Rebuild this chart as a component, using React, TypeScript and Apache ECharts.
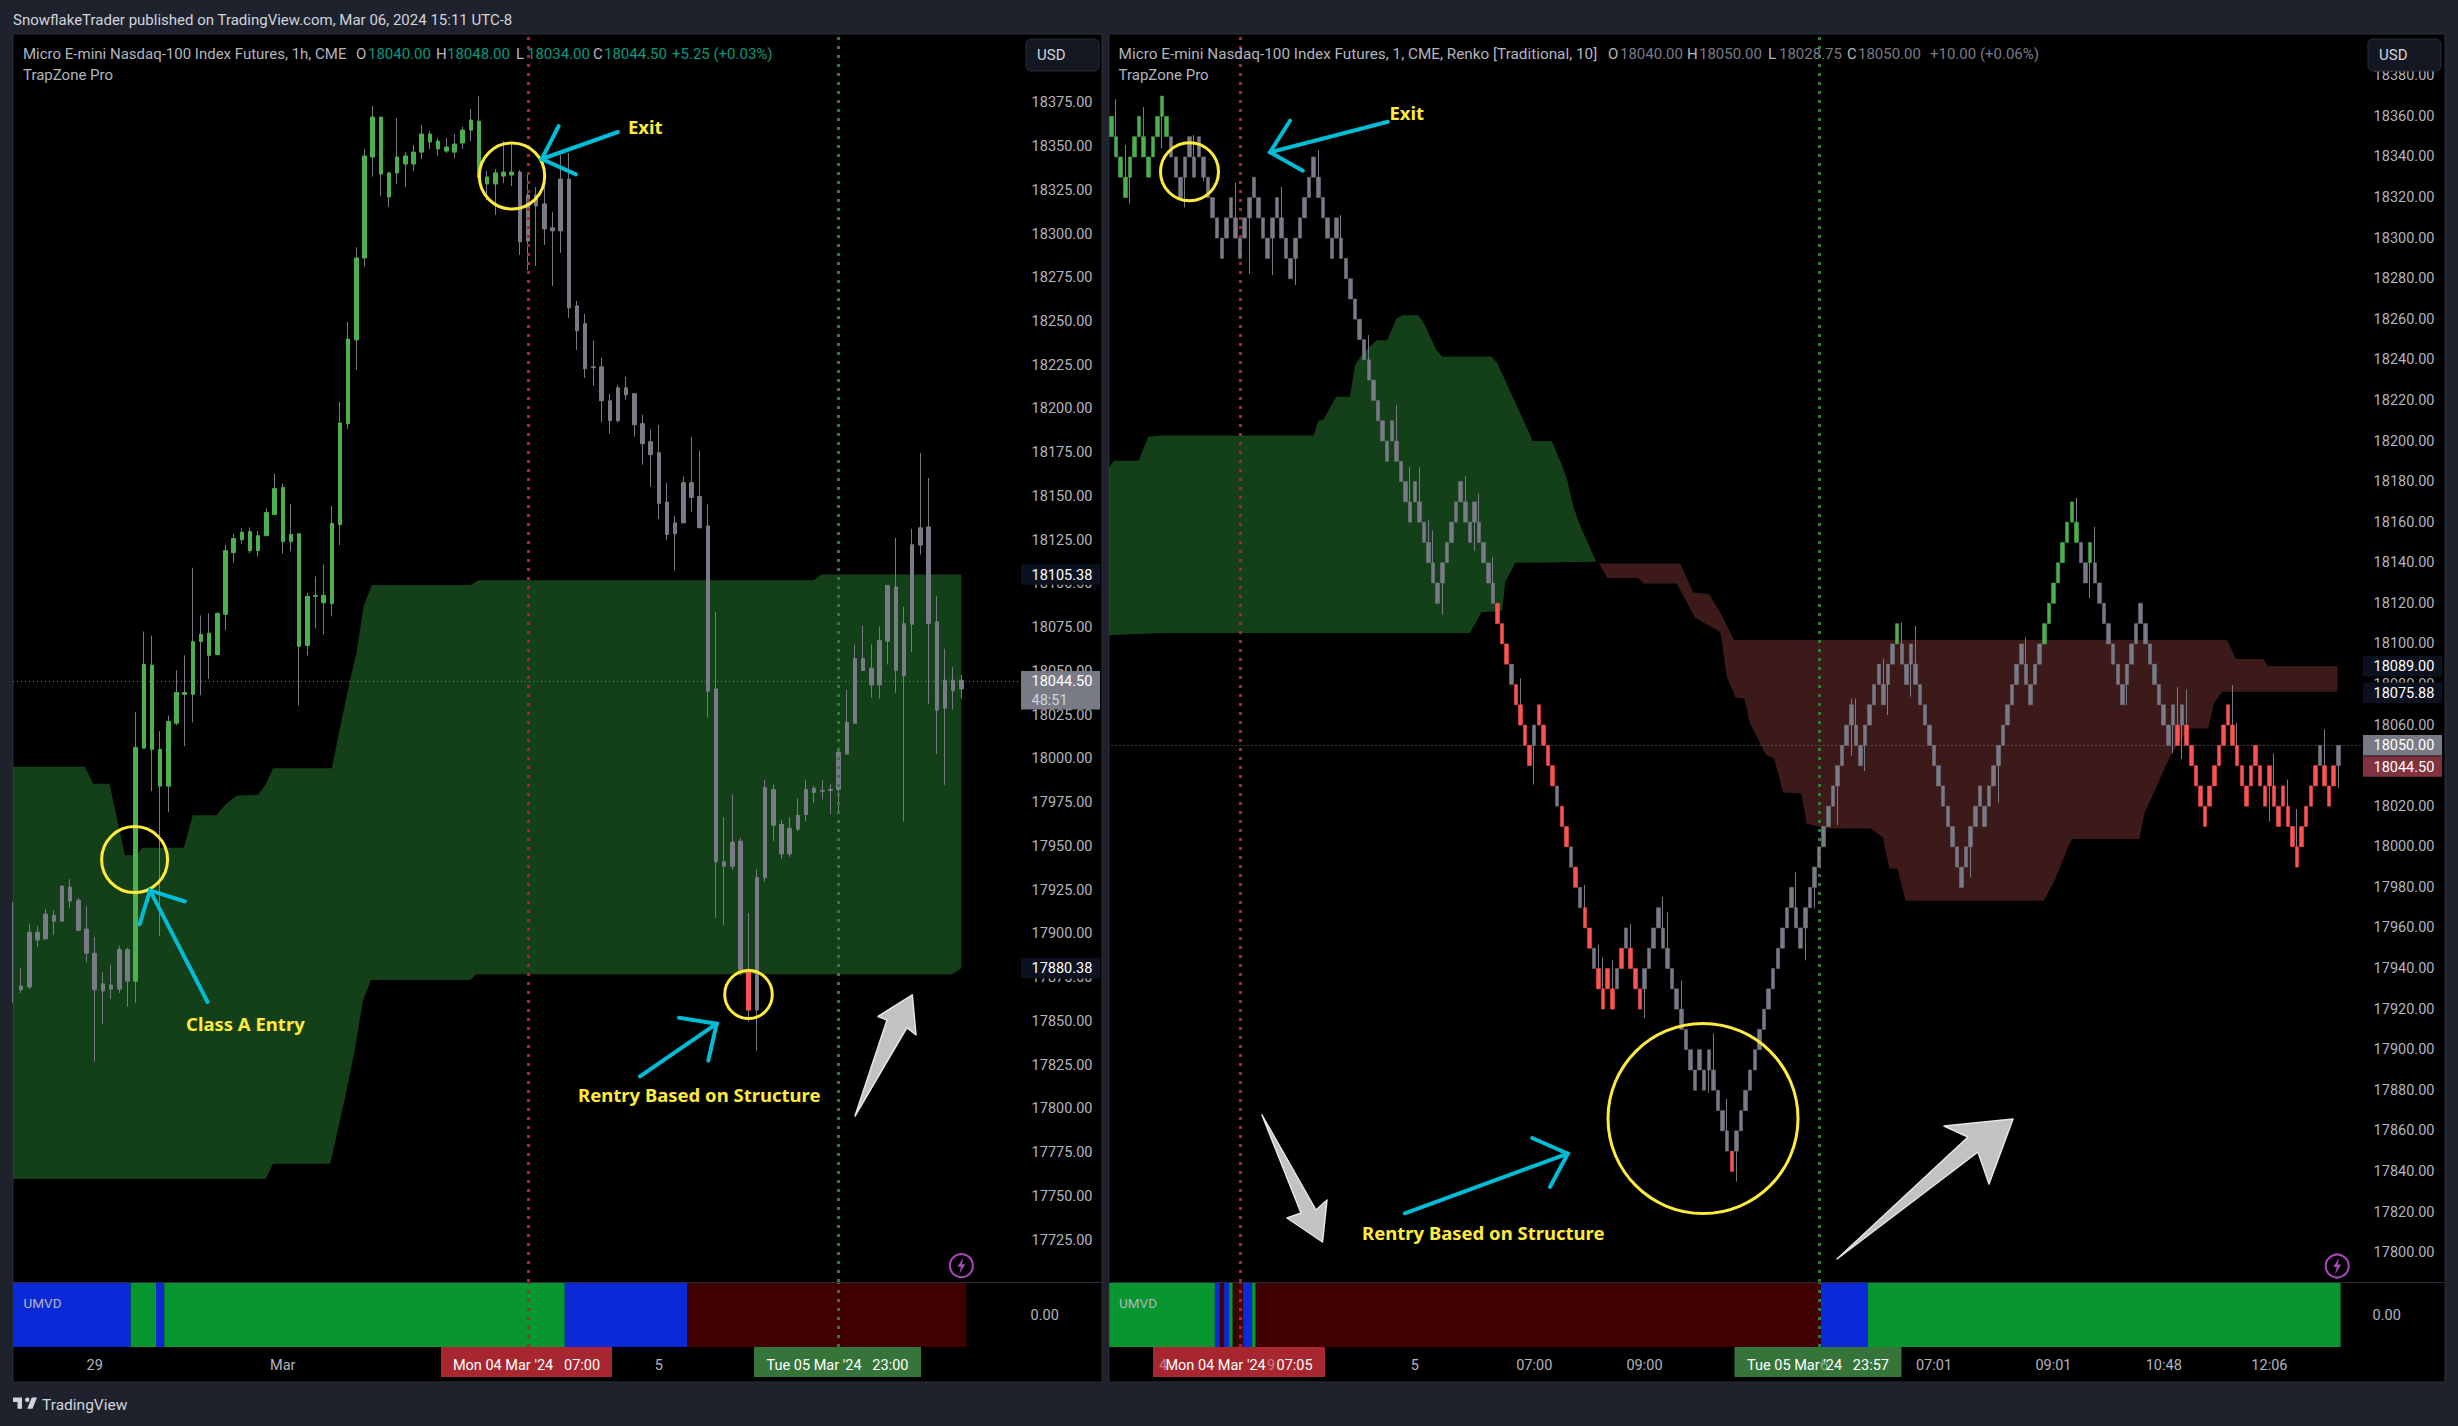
import { useEffect, useRef } from 'react'
import * as echarts from 'echarts'

// ---------- left chart: 1h candles ----------
const leftHigh = [17918.2,17880.5,17905.8,17904.6,17914.1,17913.6,17927.4,17931.3,17920.4,17915.9,17898.3,17878.2,17882.5,17893.3,17892.2,18026.9,18072.8,18070.5,18015.9,18024.9,18050.6,18059.2,18109.3,18082,18083.2,18083.8,18122.4,18128.7,18131.7,18132.3,18130.3,18143.2,18163,18157.4,18145.7,18128.7,18094.9,18104.3,18111.1,18144.5,18204.1,18249.8,18292.4,18348.6,18373.1,18366.8,18335.6,18366.2,18347,18350.8,18362.3,18358.8,18354.8,18354.8,18357.1,18361.3,18371.4,18378.8,18336,18337.1,18353.1,18352.6,18336.6,18333.7,18326.9,18328,18312.6,18345.1,18346.3,18261.8,18254.4,18239,18229.3,18208.7,18213.8,18218.4,18209.1,18196.7,18188.2,18191,18157.9,18138.9,18161.5,18184,18176.2,18145.4,18084,17966.7,17979.6,17954.8,17911.9,17936.9,17988.1,17985.4,17965.1,17966.7,17977.3,17988.1,17984.8,17987.7,17985.4,18006.6,18039.4,18065.4,18076.1,18065.4,18075.7,18099.2,18126.2,18087,18131.5,18174.8,18160.6,18092.9,18063,18052.4,18048.1]
const leftBodyTop = [null,17870.3,17901,17901,17911.4,17910.7,17927.4,17926.8,17919.3,17902.8,17889,17871.5,17870.8,17891.1,17891.1,18006.6,18054,18053.6,18005.5,18021.5,18038,18038,18067.1,18071.2,18071.9,18083.2,18119,18126,18129.6,18129.9,18127.6,18140.9,18154.5,18155.1,18128.3,18128.7,18092.9,18093.5,18093.5,18134.6,18192,18239.9,18286.3,18344.6,18366.8,18366.8,18334.9,18344,18344.6,18346.8,18357.1,18357.1,18353.1,18349.7,18351.4,18359.4,18365.1,18364.5,18332.6,18334.9,18335.4,18335.4,18335.4,18322.3,18322.3,18317.2,18303.5,18331.4,18331.4,18258.9,18248.7,18224.1,18224.1,18204.7,18212.1,18212.1,18208.7,18191.6,18181.3,18175,18146.8,18134.9,18157.9,18157.9,18150,18133.2,18040,17941.2,17952.5,17953,17879.8,17932.2,17983.6,17982.5,17962.6,17960.4,17967.8,17982.5,17983.2,17982,17982.5,18003.9,18020.9,18057.4,18057.4,18051.8,18067.6,18099.2,18098.3,18077.3,18122.4,18132.1,18132.6,18078.4,18045,18045,18045]
const leftBodyBottom = [null,17868.1,17869.7,17896.5,17897.2,17907.3,17907.3,17918.8,17902.1,17889,17868.1,17867.4,17868.5,17868.5,17873,17873,18006.2,18005.5,17984.5,17984.5,18020.4,18036.9,18036.9,18067.1,18059.2,18059.7,18082.7,18117.9,18125.3,18119,18119,18127.6,18139.6,18124.2,18124.2,18064.4,18064.9,18092.9,18089.3,18088.8,18133.9,18191.6,18239.5,18286.3,18344,18334.3,18321.2,18334.9,18340,18340,18346.8,18352.6,18348.6,18347.4,18346.8,18352,18359.4,18332,18328.6,18328.6,18333.1,18333.7,18295.5,18296,18316,18302.9,18301.8,18301.8,18257.8,18244.7,18223,18223.6,18204.7,18193.3,18193.3,18208.1,18191,18180.2,18173.9,18146.1,18128.3,18128.7,18134.9,18149.5,18132.1,18038.7,17941.2,17938.7,17938.7,17879.8,17856.5,17856.5,17932.2,17962.2,17945.7,17945.7,17959.9,17968.3,17980.9,17981.6,17982,17982.5,18002.8,18020.4,18050.6,18042.3,18042.3,18067.3,18050.6,18047.5,18077,18122.2,18077.5,18027.9,18029,18039.1,18040]
const leftLow = [17860.6,17866.3,17868.5,17892.7,17896.7,17899.4,17907.3,17914.8,17901.7,17883.9,17827,17848.7,17862.9,17866.3,17858.4,17860.6,18006.2,17981.6,17899,17969.6,18019.3,18007.3,18020.9,18036.4,18045.7,18059.2,18073.4,18112.2,18123.1,18117.7,18115.6,18127.6,18139.6,18117.4,18118.6,18030.6,18059.2,18074.6,18071.2,18081.5,18122.2,18188.7,18222.4,18281.4,18332.8,18321.7,18315.5,18328.6,18326.9,18336,18342.8,18348.6,18344.6,18346.3,18343.4,18348.6,18353.1,18332,18319.4,18310.9,18329.1,18327.4,18288.1,18279.5,18281.8,18293.8,18270.4,18289.2,18252.1,18233.8,18217.8,18213.3,18192.3,18185.9,18192.3,18205.3,18184.2,18168.2,18155.6,18137,18125.1,18107.7,18134.9,18141.2,18132.1,18023.6,17909.1,17905.1,17936.7,17876.4,17850,17833.3,17929.9,17953.2,17943,17944.1,17958.8,17964.2,17975,17976.9,17968.5,17970.1,18002.8,18020.4,18050.6,18035.1,18034.6,18054,18037.8,17964.2,18061,18116.8,18031.5,18002.8,17985.2,18028.3,18034.6]
const leftGreenBars = [[15, 61]]
const leftRedBars = [[90, 90]]
const leftBarCount = 124
const leftTickBars = [10, 33, 79]
const leftTickLabels = ['29', 'Mar', '5']
const leftPriceTicks = [18375,18350,18325,18300,18275,18250,18225,18200,18175,18150,18125,18100,18075,18050,18025,18000,17975,17950,17925,17900,17875,17850,17825,17800,17775,17750,17725]
const leftCloud = [[0,17995.6],[8.8,17995.6],[9.8,17985.9],[11.8,17985.9],[13.7,17945],[15.1,17945],[15.8,17949.3],[20.9,17949.3],[22,17967.8],[24.9,17967.8],[26,17974.1],[27.4,17979.1],[30,17979.5],[30.9,17985.4],[31.8,17994.7],[39,17994.7],[40,18017.5],[41.2,18044.5],[42,18060.3],[42.9,18087.4],[43.9,18099.4],[56,18099.4],[56.9,18102.1],[97.9,18102.1],[98.9,18105.4],[116,18105.4],[116,17880.4],[114.9,17876.9],[56.7,17876.9],[55.9,17873.7],[43.8,17873.7],[42.8,17861.7],[41.8,17833.5],[40.6,17805.8],[38.8,17768.7],[31.8,17768.7],[30.9,17760],[0,17760]]
const leftUmvd = [[0,14.4,'blue'],[14.4,17.5,'green'],[17.5,18.5,'blue'],[18.5,67.5,'green'],[67.5,82.5,'blue'],[82.5,116.6,'maroon']]
const leftRedLineBar = 63
const leftGreenLineBar = 101
const leftLastPrice = 18044.5

// ---------- right chart: renko bricks, each 10 points ----------
const rightBrickLow = [
  18350,18340,18330,18320,18330,18340,18350,18340,18330,18340,18350,18360,18350,
  18340,18330,18320,18330,18340,18330,18340,18330,18320,
  18310,18300,18290,18300,18310,18300,18290,18300,18310,18320,
  18310,18300,18290,18300,18310,18300,18290,18280,18290,18300,
  18310,18320,18330,18320,18310,18300,18290,18300,18290,18280,
  18270,18260,18250,18240,18230,18220,18210,18200,18190,18200,
  18190,18180,
  18170,18160,18170,18160,18150,18140,18130,18120,18130,18140,
  18150,18160,18170,18160,18150,18160,18150,18140,18130,18120,
  18110,18100,18090,18080,18070,18060,18050,18040,18050,18060,
  18050,18040,18030,18020,18010,18000,17990,17980,17970,17960,
  17950,17940,17930,17920,17930,17920,17930,17940,17950,17940,
  17930,17920,17930,17940,17950,17960,17950,17940,17930,17920,
  17910,17900,17890,17880,17890,17880,17890,17880,17870,
  17860,17850,17840,17850,17860,17870,17880,17890,17900,17910,17920,17930,
  17940,17950,17960,17970,17960,17950,17960,17970,17980,17990,
  18000,18010,18020,18030,18040,18050,18060,18050,18040,18050,
  18060,18070,18080,18070,18080,18090,18100,18090,18080,18090,
  18080,18070,18060,18050,18040,18030,18020,18010,18000,17990,
  17980,17990,18000,18010,18020,18010,18020,18030,18040,18050,
  18060,18070,18080,18090,18080,18070,18080,18090,18100,18110,
  18120,18130,18140,18150,18160,18150,18140,18130,18140,18130,
  18120,18110,18100,18090,18080,18070,18080,18090,18100,18110,
  18100,18090,18080,18070,18060,18050,18060,18050,18060,18050,
  18040,18030,18020,18010,18020,18030,18040,18050,18060,18050,
  18040,18030,18020,18030,18040,18030,18020,18030,18020,18010,
  18020,18010,18000,17990,18000,18010,18020,18030,18040,18030,
  18020,18030,18040,
]
const rightUpperWicks = [[1,18368.5],[3,18345.8],[7,18364.6],[18,18350.8],[27,18327.3],[37,18325.3],[45,18343.4],[50,18311.3],[56,18252.2],[62,18217.7],[65,18187.3],[67,18187],[69,18161.1],[70,18155.9],[77,18182.7],[80,18174],[83,18142.7],[89,18083],[103,17981.2],[106,17951.7],[107,17945.4],[109,17944.3],[113,17961.9],[120,17975.3],[121,17968],[124,17934],[131,17908],[134,17875.7],[149,17987.7],[161,18073.1],[162,18073.1],[168,18092.8],[172,18110.6],[175,18108.8],[199,18103.2],[210,18172],[214,18157.7],[232,18078.6],[234,18077.6],[244,18079.7],[245,18061.3],[253,18046],[256,18033.2],[258,18018.6],[264,18057.9]]
const rightLowerWicks = [[4,18317.1],[11,18344.2],[16,18315],[20,18328],[30,18282.3],[35,18281.8],[40,18276.8],[72,18114.4],[79,18145.7],[92,18030.7],[116,17915.5],[130,17878.8],[136,17835],[151,17944],[153,17969.6],[158,18010.7],[161,18044.9],[164,18037.3],[169,18064.9],[174,18074],[187,17984.8],[193,18021.7],[213,18122.4],[221,18069.8],[231,18046],[233,18043.2],[252,18012.4],[267,18029.1]]
const rightGreenBars = [[0,12],[171,171],[203,210],[213,213]]
const rightRedBars = [[84,86],[88,91],[93,96],[98,99],[101,101],[103,104],[106,109],[111,111],[113,115],[135,135],[232,232],[234,262],[264,266]]
const rightBarCount = 273
const rightTickBars = [66, 92, 116, 179, 205, 229, 252]
const rightTickLabels = ['5', '07:00', '09:00', '07:01', '09:01', '10:48', '12:06']
const rightPriceTicks = [18380,18360,18340,18320,18300,18280,18260,18240,18220,18200,18180,18160,18140,18120,18100,18080,18060,18040,18020,18000,17980,17960,17940,17920,17900,17880,17860,17840,17820,17800]
const rightGreenCloud = [[-0.6,18186.5],[0.5,18190.3],[5.9,18190.3],[8,18202.1],[10.4,18202.7],[44,18202.7],[45,18210],[46.1,18210.5],[48.9,18221.8],[51.9,18221.8],[53,18237.4],[54.7,18243.2],[57.7,18249.7],[60,18249.7],[62,18260.4],[63.3,18262],[66.8,18262],[68,18258],[70.7,18244.8],[72,18241.7],[82.7,18241.7],[84,18238.2],[91.7,18200],[95.8,18200],[98.2,18187.3],[99.2,18180.7],[100.3,18169.4],[101.6,18160.4],[105.5,18140.5],[87.9,18140],[85.7,18130.5],[85,18116.2],[80.5,18115.6],[79.3,18110.6],[78,18105.4],[10.4,18105.4],[-0.6,18104.3]]
const rightRedCloud = [[106.1,18139.6],[123.8,18139.6],[126.6,18125.3],[130,18124.6],[132.4,18115.9],[135.5,18101.9],[242.8,18101.9],[244.7,18092.5],[250.7,18092.5],[251.7,18089.1],[266.8,18089.1],[266.8,18076.4],[241.8,18076.4],[239.9,18070.7],[238.7,18058.3],[234.5,18058.3],[230.7,18046],[229.2,18038.6],[224.8,18016.4],[223.7,18003.8],[209.2,18003.8],[208.7,18002.5],[205.3,17983.6],[202.9,17973.4],[172.8,17973.4],[171.1,17989],[169.3,17989.4],[167.9,18004.6],[165.2,18009],[155.7,18009],[151.3,18011.5],[150.1,18026.3],[146.2,18026.8],[144.2,18043.6],[142.4,18045.2],[139,18060.8],[137.7,18073.1],[135.8,18073.6],[133.9,18083.8],[132.7,18103.5],[132.4,18106],[127,18112.9],[123,18129.8],[115.8,18129.8],[114.6,18132.5],[107.9,18132.5]]
const rightUmvd = [[-0.5,22.5,'green'],[22.5,23.6,'blue'],[23.6,24.5,'maroon'],[24.5,25.6,'blue'],[25.6,26.4,'green'],[26.4,28.6,'maroon'],[28.6,30.6,'blue'],[30.6,31.4,'green'],[31.4,154.4,'maroon'],[154.4,164.6,'blue'],[164.6,267.5,'green']]
const rightRedLineBar = 28
const rightGreenLineBar = 154
const rightLastPrice = 18050

const FONT = 'Roboto'
const NOTE_FONT = 'Noto Sans'
const PAGE = '#1e222d'
const BORDER = '#2a2e39'
const GRAY = '#787b86'
const GREEN = '#4caf50'
const RED = '#ff5252'
const TEAL = '#089981'
const AXIS_TEXT = '#b2b5be'
const YELLOW = '#ffeb3b'
const CYAN = '#00bcd4'
const UMVD_COLORS: Record<string, string> = { blue: '#0b29d6', green: '#07962f', maroon: '#400000' }
const NO_CANDLE = ['-', '-', '-', '-']

const inRanges = (i: number, ranges: number[][]) => ranges.some(([a, b]) => i >= a && i <= b)

const categories = (count: number, bars: number[], labels: string[]) =>
  Array.from({ length: count }, (_, i) => {
    const at = bars.indexOf(i)
    return at >= 0 ? labels[at] : ''
  })

const toneOf = (i: number, greens: number[][], reds: number[][]) =>
  inRanges(i, greens) ? GREEN : inRanges(i, reds) ? RED : GRAY

// wicks are gray whatever the body colour, so bodies and wicks are two candlestick series
const wickItem = (low: number, high: number) => [low, low, low, high]
const bodyItem = (bottom: number, top: number, color: string) => ({
  value: [bottom, top, bottom, top],
  itemStyle: { color, color0: color, borderColor: color, borderColor0: color },
})

const leftWicks = leftHigh.map((h, i) => wickItem(leftLow[i], h))
const leftBodies = leftHigh.map((_, i) =>
  leftBodyTop[i] == null
    ? { value: NO_CANDLE }
    : bodyItem(leftBodyBottom[i] as number, leftBodyTop[i] as number, toneOf(i, leftGreenBars, leftRedBars))
)
const rightBodies = rightBrickLow.map((low, i) => bodyItem(low, low + 10, toneOf(i, rightGreenBars, rightRedBars)))
const rightWicks = rightBrickLow.map((low, i) => {
  const up = rightUpperWicks.find(w => w[0] === i)
  const down = rightLowerWicks.find(w => w[0] === i)
  if (!up && !down) return NO_CANDLE
  return wickItem(down ? down[1] : low + 5, up ? up[1] : low + 5)
})

const polygonSeries = (vertices: number[][], color: string, xAxisIndex: number, yAxisIndex: number, z: number) => ({
  type: 'custom',
  xAxisIndex,
  yAxisIndex,
  z,
  silent: true,
  clip: true,
  data: [vertices[0]],
  renderItem: (_: any, api: any) => ({
    type: 'polygon',
    shape: { points: vertices.map(v => api.coord(v)) },
    style: { fill: color },
  }),
})

const umvdSeries = (runs: any[], xAxisIndex: number, yAxisIndex: number) => ({
  type: 'custom',
  xAxisIndex,
  yAxisIndex,
  z: 1,
  silent: true,
  clip: true,
  data: runs.map(r => [r[0], r[1]]),
  renderItem: (params: any, api: any) => {
    const run = runs[params.dataIndex]
    const from = api.coord([run[0], 1])
    const to = api.coord([run[1], -1])
    return {
      type: 'rect',
      shape: { x: from[0], y: from[1], width: to[0] - from[0], height: to[1] - from[1] },
      style: { fill: UMVD_COLORS[run[2]] },
    }
  },
})

const dotted = (color: string) => ({ color, width: 3, type: [3, 6] as any, opacity: 1 })

const markLineSeries = (xAxisIndex: number, yAxisIndex: number, z: number, data: any[]) => ({
  type: 'line',
  xAxisIndex,
  yAxisIndex,
  z,
  silent: true,
  data: [],
  markLine: { silent: true, symbol: 'none', animation: false, label: { show: false }, data },
})

const sessionLines = (redBar: number, greenBar: number) => [
  { xAxis: redBar, lineStyle: dotted('#b2222e') },
  { xAxis: greenBar, lineStyle: dotted('#2e7d32') },
]

const lastPriceLine = (price: number, lastBar: number) => [
  [
    { coord: [0, price], lineStyle: { color: GRAY, width: 1, type: [1, 3] as any } },
    { coord: [lastBar, price] },
  ],
]

const priceAxis = (gridIndex: number, min: number, max: number, ticks: number[], margin: number) => ({
  type: 'value',
  gridIndex,
  position: 'right',
  min,
  max,
  axisLine: { show: false },
  axisTick: { show: false },
  splitLine: { show: false },
  axisLabel: {
    color: AXIS_TEXT,
    fontFamily: FONT,
    fontSize: 14.5,
    margin,
    customValues: ticks,
    formatter: (v: number) => v.toFixed(2),
  },
})

const hiddenBarAxis = (gridIndex: number, count: number) => ({
  type: 'value',
  gridIndex,
  show: false,
  min: -0.5,
  max: count - 0.5,
  splitLine: { show: false },
})

const hiddenCategoryAxis = (gridIndex: number, count: number) => ({
  type: 'category',
  gridIndex,
  show: false,
  data: Array.from({ length: count }, (_, i) => String(i)),
})

const timeAxis = (gridIndex: number, names: string[]) => ({
  type: 'category',
  gridIndex,
  data: names,
  axisLine: { show: false },
  axisTick: { show: false },
  splitLine: { show: false },
  axisLabel: { interval: 0, color: AXIS_TEXT, fontFamily: FONT, fontSize: 14.5, margin: 11 },
})

const txt = (x: number, y: number, text: string, fill: string, fontSize = 15, align: any = 'left') => ({
  type: 'text',
  z: 120,
  silent: true,
  style: { x, y, text, fill, fontSize, fontFamily: FONT, align, verticalAlign: 'middle' },
})

const note = (x: number, y: number, text: string) => ({
  type: 'text',
  z: 120,
  silent: true,
  style: { x, y, text, fill: YELLOW, fontSize: 18.5, fontWeight: 'bold', fontFamily: NOTE_FONT, verticalAlign: 'middle' },
})

const box = (x: number, y: number, width: number, height: number, fill: string, z = 110, r = 0, stroke?: string) => ({
  type: 'rect',
  z,
  silent: true,
  shape: { x, y, width, height, r },
  style: { fill, stroke, lineWidth: stroke ? 1 : 0 },
})

const ring = (cx: number, cy: number, rx: number, ry: number) => ({
  type: 'ellipse',
  z: 100,
  silent: true,
  shape: { cx, cy, rx, ry },
  style: { fill: 'none', stroke: YELLOW, lineWidth: 3 },
})

const arrow = (tail: number[], tip: number[], barbA: number[], barbB: number[]) => ({
  type: 'group',
  z: 100,
  silent: true,
  children: [
    { type: 'polyline', z: 100, shape: { points: [tail, tip] }, style: { fill: 'none', stroke: CYAN, lineWidth: 4, lineCap: 'round' } },
    { type: 'polyline', z: 100, shape: { points: [barbA, tip, barbB] }, style: { fill: 'none', stroke: CYAN, lineWidth: 4, lineCap: 'round', lineJoin: 'miter' } },
  ],
})

const grayArrow = (points: number[][]) => ({
  type: 'polygon',
  z: 100,
  silent: true,
  shape: { points },
  style: { fill: '#c2c2c2', stroke: '#e6e6e6', lineWidth: 1.5, lineJoin: 'round' },
})

const bolt = (cx: number, cy: number) => ({
  type: 'group',
  z: 100,
  silent: true,
  children: [
    { type: 'circle', z: 100, shape: { cx, cy, r: 11.5 }, style: { fill: 'none', stroke: '#ab47bc', lineWidth: 2 } },
    {
      type: 'polygon',
      z: 100,
      shape: { points: [[cx + 2, cy - 8], [cx - 4, cy + 1], [cx - 0.5, cy + 1], [cx - 2, cy + 8], [cx + 4, cy - 1.5], [cx + 0.5, cy - 1.5]] },
      style: { fill: '#ab47bc' },
    },
  ],
})

echarts.graphic.registerShape(
  'tvLogo',
  echarts.graphic.extendPath(
    'M14 6H2v6h6v9h6V6zm14 15h-7l6-15h7l-6 15zm-7-9a3 3 0 1 0 0-6 3 3 0 0 0 0 6z' as any,
    {}
  ) as any
)

export default function App() {
  const chartRef = useRef<HTMLDivElement>(null)

  useEffect(() => {
    if (!chartRef.current) return
    const chart = echarts.init(chartRef.current, undefined, { renderer: 'svg' })

    chart.setOption({
      animation: false,
      backgroundColor: PAGE,
      grid: [
        { left: 8.9, top: 34, width: 1013.7, height: 1248 },
        { left: 8.9, top: 1283, width: 1013.7, height: 64 },
        { left: 1109.2, top: 34, width: 1254.4, height: 1248 },
        { left: 1109.2, top: 1283, width: 1254.4, height: 64 },
      ],
      xAxis: [
        hiddenCategoryAxis(0, leftBarCount),
        hiddenBarAxis(0, leftBarCount),
        timeAxis(1, categories(leftBarCount, leftTickBars, leftTickLabels)),
        hiddenBarAxis(1, leftBarCount),
        hiddenCategoryAxis(2, rightBarCount),
        hiddenBarAxis(2, rightBarCount),
        timeAxis(3, categories(rightBarCount, rightTickBars, rightTickLabels)),
        hiddenBarAxis(3, rightBarCount),
      ],
      yAxis: [
        priceAxis(0, 17701.1, 18414.3, leftPriceTicks, 9),
        { ...priceAxis(1, -1, 1, [0], 8), axisLabel: { color: AXIS_TEXT, fontFamily: FONT, fontSize: 14.5, margin: 8, customValues: [0], formatter: () => '0.00' } },
        priceAxis(2, 17785.5, 18400.6, rightPriceTicks, 10),
        { ...priceAxis(3, -1, 1, [0], 9), axisLabel: { color: AXIS_TEXT, fontFamily: FONT, fontSize: 14.5, margin: 9, customValues: [0], formatter: () => '0.00' } },
      ],
      series: [
        polygonSeries(leftCloud, 'rgba(40,128,50,0.5)', 1, 0, 1),
        markLineSeries(0, 0, 2, [...sessionLines(leftRedLineBar, leftGreenLineBar), ...lastPriceLine(leftLastPrice, 123)]),
        { type: 'candlestick', name: 'wick', xAxisIndex: 0, yAxisIndex: 0, z: 3, barWidth: 1, silent: true, data: leftWicks, itemStyle: { color: GRAY, color0: GRAY, borderColor: GRAY, borderColor0: GRAY, borderWidth: 1 } },
        { type: 'candlestick', name: 'body', xAxisIndex: 0, yAxisIndex: 0, z: 4, barWidth: 4, silent: true, data: leftBodies, itemStyle: { borderWidth: 1 } },
        umvdSeries(leftUmvd, 3, 1),
        markLineSeries(2, 1, 2, sessionLines(leftRedLineBar, leftGreenLineBar)),

        // session lines sit under the translucent clouds on this side
        markLineSeries(4, 2, 1, sessionLines(rightRedLineBar, rightGreenLineBar)),
        polygonSeries(rightGreenCloud, 'rgba(40,128,50,0.5)', 5, 2, 2),
        polygonSeries(rightRedCloud, 'rgba(122,52,52,0.5)', 5, 2, 2),
        markLineSeries(4, 2, 3, lastPriceLine(rightLastPrice, 272)),
        { type: 'candlestick', name: 'wick', xAxisIndex: 4, yAxisIndex: 2, z: 4, barWidth: 1, silent: true, data: rightWicks, itemStyle: { color: GRAY, color0: GRAY, borderColor: GRAY, borderColor0: GRAY, borderWidth: 1 } },
        { type: 'candlestick', name: 'body', xAxisIndex: 4, yAxisIndex: 2, z: 5, barWidth: 4, silent: true, data: rightBodies, itemStyle: { borderWidth: 0.5 } },
        umvdSeries(rightUmvd, 7, 3),
        markLineSeries(6, 3, 2, sessionLines(rightRedLineBar, rightGreenLineBar)),
      ],
    })

    // price tags follow the axes, so ask the chart where they sit
    const yLeft = (v: number) => chart.convertToPixel({ yAxisIndex: 0 }, v) as number
    const yRight = (v: number) => chart.convertToPixel({ yAxisIndex: 2 }, v) as number
    const priceTag = (x: number, y: number, label: string, fill: string, h = 20.5) => [
      box(x, y - h / 2, 79, h, fill),
      txt(x + 10.5, y + 0.5, label, '#ffffff', 14.5),
    ]

    chart.setOption({
      graphic: {
        elements: [
          // panels and frames
          box(13, 34, 1089, 1348, '#000000', -1, 0, BORDER),
          box(1109, 34, 1336, 1348, '#000000', -1, 0, BORDER),
          { type: 'line', z: 50, silent: true, shape: { x1: 13, y1: 1282.5, x2: 1102, y2: 1282.5 }, style: { stroke: BORDER, lineWidth: 1 } },
          { type: 'line', z: 50, silent: true, shape: { x1: 1109, y1: 1282.5, x2: 2445, y2: 1282.5 }, style: { stroke: BORDER, lineWidth: 1 } },

          // header and legends
          txt(13, 20, 'SnowflakeTrader published on TradingView.com, Mar 06, 2024 15:11 UTC-8', '#d1d4dc'),
          txt(23, 53.5, 'Micro E-mini Nasdaq-100 Index Futures, 1h, CME', AXIS_TEXT),
          txt(356, 53.5, 'O', AXIS_TEXT), txt(368, 53.5, '18040.00', TEAL),
          txt(436, 53.5, 'H', AXIS_TEXT), txt(447, 53.5, '18048.00', TEAL),
          txt(516, 53.5, 'L', AXIS_TEXT), txt(527, 53.5, '18034.00', TEAL),
          txt(593, 53.5, 'C', AXIS_TEXT), txt(604, 53.5, '18044.50', TEAL),
          txt(672, 53.5, '+5.25 (+0.03%)', TEAL),
          txt(23, 75, 'TrapZone Pro', AXIS_TEXT),

          txt(1118.6, 53.5, 'Micro E-mini Nasdaq-100 Index Futures, 1, CME, Renko [Traditional, 10]', AXIS_TEXT, 15.3),
          txt(1608, 53.5, 'O', AXIS_TEXT), txt(1620, 53.5, '18040.00', GRAY),
          txt(1687, 53.5, 'H', AXIS_TEXT), txt(1699, 53.5, '18050.00', GRAY),
          txt(1768, 53.5, 'L', AXIS_TEXT), txt(1779, 53.5, '18028.75', GRAY),
          txt(1847, 53.5, 'C', AXIS_TEXT), txt(1858, 53.5, '18050.00', GRAY),
          txt(1930, 53.5, '+10.00 (+0.06%)', GRAY),
          txt(1118.6, 75, 'TrapZone Pro', AXIS_TEXT),

          // USD boxes
          box(1026, 39, 73, 32, '#131722', 110, 5, '#2a2e39'),
          txt(1037, 55, 'USD', '#d1d4dc'),
          box(2368, 39, 73, 32, '#131722', 110, 5, '#2a2e39'),
          txt(2379, 55, 'USD', '#d1d4dc'),

          // price tags
          ...priceTag(1021, yLeft(18105.38), '18105.38', '#0c1120'),
          ...priceTag(1021, yLeft(17880.38), '17880.38', '#0c1120'),
          box(1021, 671, 79, 38.5, GRAY),
          txt(1031.5, 681.5, '18044.50', '#ffffff', 14.5),
          txt(1031.5, 700, '48:51', '#d1d4dc', 14.5),
          ...priceTag(2363, yRight(18089), '18089.00', '#0c1120'),
          ...priceTag(2363, yRight(18075.88), '18075.88', '#0c1120'),
          ...priceTag(2363, yRight(18050), '18050.00', GRAY),
          ...priceTag(2363, yRight(18044.5) + 10, '18044.50', '#80323f'),

          // time tags, with the tick digits that show through them
          box(441, 1347, 171, 30, '#a8262f'),
          txt(526.5, 1365, "Mon 04 Mar '24   07:00", '#ffffff', 14.5, 'center'),
          box(754, 1347, 167, 30, '#36753a'),
          txt(837.5, 1365, "Tue 05 Mar '24   23:00", '#ffffff', 14.5, 'center'),
          box(1153, 1347, 172, 30, '#a8262f'),
          txt(1159, 1365, '4', 'rgba(255,255,255,0.4)', 14.5),
          txt(1267, 1365, '9', 'rgba(255,255,255,0.4)', 14.5),
          txt(1239, 1365, "Mon 04 Mar '24   07:05", '#ffffff', 14.5, 'center'),
          box(1734.5, 1347, 167, 30, '#36753a'),
          txt(1820, 1365, '6', 'rgba(255,255,255,0.4)', 14.5),
          txt(1818, 1365, "Tue 05 Mar '24   23:57", '#ffffff', 14.5, 'center'),

          // UMVD pane titles
          txt(23.5, 1303, 'UMVD', AXIS_TEXT, 13.5),
          txt(1119, 1303, 'UMVD', AXIS_TEXT, 13.5),

          // drawings, left
          ring(512, 176, 32.7, 33),
          arrow([618, 132], [541.7, 159], [558.7, 126], [576, 174.3]),
          note(628, 126, 'Exit'),
          ring(134.6, 859.6, 33, 33),
          arrow([207.6, 1002], [150, 890.4], [139.6, 924.4], [185, 901.5]),
          note(186, 1023.7, 'Class A Entry'),
          ring(748.5, 994.5, 23.8, 24),
          arrow([640, 1076.3], [716.7, 1023.7], [679, 1017.8], [708.3, 1060.5]),
          note(578, 1094, 'Rentry Based on Structure'),
          grayArrow([[855, 1116], [887, 1020], [878, 1016.5], [912.3, 994.8], [916, 1034.8], [907, 1027.6]]),

          // drawings, right
          ring(1189.5, 171.7, 29, 29),
          arrow([1387.9, 121.7], [1270, 152.3], [1290, 120.7], [1302.8, 170.7]),
          note(1389.4, 112.7, 'Exit'),
          ring(1703, 1118.5, 95, 95),
          arrow([1404.8, 1213.3], [1567.8, 1153.6], [1532.2, 1138], [1550, 1187]),
          note(1362, 1232.7, 'Rentry Based on Structure'),
          grayArrow([[1262, 1115], [1316, 1210], [1327, 1200], [1322.5, 1242], [1287, 1218], [1301, 1213]]),
          grayArrow([[1837, 1259], [1968, 1137], [1944, 1126], [2013, 1119], [1989, 1184], [1978, 1152]]),

          bolt(961.4, 1265.7),
          bolt(2337.2, 1266),

          // footer
          { type: 'tvLogo', z: 100, silent: true, x: 11.5, y: 1393, scaleX: 0.75, scaleY: 0.75, style: { fill: '#d1d4dc' } },
          txt(42, 1405, 'TradingView', '#d1d4dc', 15.5),
        ],
      },
    })

    return () => {
      chart.dispose()
    }
  }, [])

  return <div ref={chartRef} style={{ position: 'fixed', left: 0, top: 0, width: 2458, height: 1426 }} />
}
